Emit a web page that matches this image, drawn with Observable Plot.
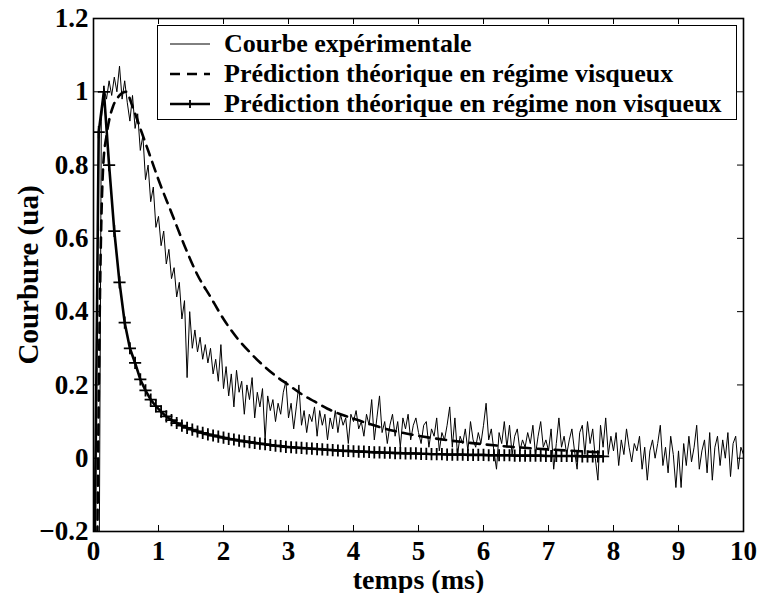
<!DOCTYPE html>
<html><head><meta charset="utf-8">
<script src="https://cdn.jsdelivr.net/npm/d3@7"></script>
<script src="https://cdn.jsdelivr.net/npm/@observablehq/plot@0.6"></script>
<style>
body{margin:0;background:#fff;}
#fig{position:relative;width:760px;height:593px;font-family:"Liberation Serif","Times New Roman",serif;font-weight:bold;color:#000;}
#legend{position:absolute;left:157px;top:25px;width:578px;height:93px;border:1px solid #000;background:#fff;}
.row{position:absolute;left:0;height:30px;display:flex;align-items:center;font-size:26px;white-space:nowrap;}
.row svg{margin-left:12px;flex:none;}
.row span{margin-left:12px;}
#fig svg text{font-family:"Liberation Serif","Times New Roman",serif;}
</style>
</head><body>
<div id="fig"></div>
<script>
// ---- data ----
const xTicks = [0,1,2,3,4,5,6,7,8,9,10];
const yTicks = [-0.2,0,0.2,0.4,0.6,0.8,1,1.2];
const legendLabels = ["Courbe expérimentale","Prédiction théorique en régime visqueux","Prédiction théorique en régime non visqueux"];
const xLabel = "temps (ms)";
const yLabel = "Courbure (ua)";

// experimental curve, sampled every 0.04 ms from 0 to 10 ms
const expStep = 0.04;
const expValues = [
 0.02,-0.35,-0.6,0.92,1.01,0.98,1.03,0.99,1.04,1.00,1.07,0.98,1.03,0.97,0.92,0.99,0.90,0.94,0.84,0.88,0.76,0.80,0.70,0.74,0.63,
 0.66,0.58,0.62,0.53,0.57,0.49,0.52,0.44,0.48,0.38,0.43,0.22,0.40,0.30,0.35,0.29,0.33,0.27,0.31,0.26,0.30,0.23,0.27,0.21,0.31,
 0.19,0.25,0.17,0.23,0.14,0.24,0.18,0.21,0.12,0.20,0.16,0.22,0.11,0.18,0.14,0.19,0.05,0.17,0.13,0.16,0.10,0.15,0.12,0.18,0.21,
 0.11,0.15,0.08,0.14,0.20,0.09,0.13,0.07,0.12,0.10,0.14,0.06,0.13,0.09,0.12,0.05,0.11,0.08,0.13,0.07,0.12,0.09,0.11,0.04,0.12,
 0.10,0.13,0.08,0.10,0.06,0.12,0.09,0.16,0.05,0.11,0.17,0.07,0.10,0.04,0.09,0.12,0.06,0.10,0.03,0.11,0.08,0.12,0.05,0.09,0.11,
 0.07,0.04,0.09,0.10,0.03,0.08,0.06,0.11,0.02,0.07,0.05,0.09,0.14,0.03,0.11,0.01,0.06,0.04,0.08,0.02,0.10,0.05,0.03,0.07,0.04,
 0.09,0.15,0.05,0.08,0.02,-0.03,0.07,0.04,0.10,0.03,0.09,0.01,0.06,0.08,0.02,0.05,0.03,0.07,0.04,0.09,0.01,0.06,0.10,0.03,0.05,
 0.02,0.08,-0.03,0.04,0.11,0.03,0.06,0.01,0.05,0.08,0.02,-0.03,0.07,0.09,0.01,0.10,0.04,0.08,0.00,-0.06,0.09,0.03,0.11,0.01,0.06,
 0.02,0.07,-0.02,0.05,0.01,0.08,0.03,-0.01,0.04,0.02,0.06,-0.03,0.03,-0.06,0.02,0.05,0.00,0.04,0.09,-0.02,0.03,-0.04,0.06,0.01,-0.08,
 0.02,-0.08,0.04,-0.02,0.06,-0.01,0.03,0.09,-0.03,0.02,0.05,-0.04,0.07,-0.06,0.03,0.06,-0.02,0.05,0.00,0.07,-0.05,0.04,0.06,-0.03,0.03,0.01
];

// viscous prediction (dashed)
const viscT = [0.05,0.10,0.15,0.20,0.25,0.30,0.40,0.50,0.60,0.70,0.80,0.90,1.00,1.20,1.40,1.60,1.80,2.00,2.20,2.40,2.60,2.80,3.00,3.20,3.40,3.60,3.80,4.00,4.50,5.00,5.50,6.00,6.50,7.00,7.50,7.80];
const viscV = [-0.4,0.45,0.80,0.88,0.93,0.96,0.99,1.00,0.96,0.91,0.86,0.81,0.76,0.67,0.58,0.50,0.44,0.38,0.33,0.29,0.255,0.225,0.20,0.175,0.155,0.135,0.12,0.108,0.08,0.061,0.048,0.038,0.03,0.024,0.019,0.016];

// non-viscous prediction (solid with + markers), sampled every 0.08 ms
const nonViscStep = 0.08;
const nonViscV = [
 -0.6,0.89,1.00,0.80,0.62,0.48,0.37,0.30,0.26,0.215,0.185,0.16,0.142,0.127,0.114,0.104,0.096,0.089,0.083,0.078,
 0.073,0.069,0.065,0.062,0.059,0.056,0.053,0.051,0.048,0.046,0.044,0.042,0.040,0.038,0.036,0.034,0.033,0.031,0.030,0.029,
 0.028,0.027,0.026,0.025,0.024,0.023,0.022,0.021,0.020,0.020,0.019,0.018,0.018,0.017,0.016,0.016,0.015,0.015,0.014,0.014,
 0.013,0.013,0.013,0.012,0.012,0.011,0.011,0.011,0.010,0.010,0.010,0.010,0.009,0.009,0.009,0.009,0.008,0.008,0.008,0.008,
 0.008,0.007,0.007,0.007,0.007,0.007,0.007,0.006,0.006,0.006,0.006,0.006,0.006,0.006,0.005,0.005,0.005,0.005,0.005
];

// ---- build tables ----
const exp = expValues.map((v,i)=>({t:+(i*expStep).toFixed(2), v}));
const visc = viscT.map((t,i)=>({t, v:viscV[i]}));
const nonVisc = nonViscV.map((v,i)=>({t:+(i*nonViscStep).toFixed(2), v}));

const fmtY = d => d < 0 ? "\u2212" + Math.abs(d) : String(d);
const W = 760, H = 593, mL = 93, mR = 17, mT = 18, mB = 62;
const innerW = W - mL - mR, innerH = H - mT - mB, tk = 6;
const serif = '"Liberation Serif","Times New Roman",serif';

const chart = Plot.plot({
  width: W, height: H,
  marginLeft: mL, marginRight: mR, marginTop: mT, marginBottom: mB,
  style: {fontFamily: serif, fontWeight: "bold", fontSize: "27px", background: "white", color: "black", overflow: "visible"},
  x: {domain: [0, 10]},
  y: {domain: [-0.2, 1.2]},
  marks: [
    Plot.line(exp, {x: "t", y: "v", stroke: "black", strokeWidth: 1, clip: true}),
    Plot.line(visc, {x: "t", y: "v", stroke: "black", strokeWidth: 2.6, strokeDasharray: "10,7", curve: "monotone-x", clip: true}),
    Plot.line(nonVisc, {x: "t", y: "v", stroke: "black", strokeWidth: 2.6, clip: true}),
    Plot.dot(nonVisc, {x: "t", y: "v", symbol: "plus", r: 4, stroke: "black", strokeWidth: 1.8, clip: true}),
    // inward ticks on all four sides
    Plot.tickX(xTicks, {x: d => d, insetTop: innerH - tk, stroke: "black", strokeWidth: 1}),
    Plot.tickX(xTicks, {x: d => d, insetBottom: innerH - tk, stroke: "black", strokeWidth: 1}),
    Plot.tickY(yTicks, {y: d => d, insetRight: innerW - tk, stroke: "black", strokeWidth: 1}),
    Plot.tickY(yTicks, {y: d => d, insetLeft: innerW - tk, stroke: "black", strokeWidth: 1}),
    Plot.frame({stroke: "black", strokeWidth: 1.6}),
    Plot.axisX(xTicks, {tickSize: 0, tickPadding: 9, label: null, fontSize: 27, fontFamily: serif, fontWeight: "bold"}),
    Plot.axisX({tickSize: 0, ticks: [], label: xLabel, labelAnchor: "center", labelOffset: 57, labelArrow: "none", fontSize: 28, fontFamily: serif, fontWeight: "bold"}),
    Plot.axisY(yTicks, {tickSize: 0, tickPadding: 5, tickFormat: fmtY, label: null, fontSize: 27, fontFamily: serif, fontWeight: "bold"}),
    Plot.axisY({tickSize: 0, ticks: [], label: yLabel, labelAnchor: "center", labelOffset: 76, labelArrow: "none", fontSize: 29, fontFamily: serif, fontWeight: "bold"})
  ]
});

const fig = document.getElementById("fig");
fig.appendChild(chart);

// legend (HTML overlay)
const legend = document.createElement("div");
legend.id = "legend";
const samples = [
  '<svg width="42" height="30"><line x1="0" x2="40" y1="15" y2="15" stroke="black" stroke-width="1"/></svg>',
  '<svg width="42" height="30"><line x1="0" x2="40" y1="15" y2="15" stroke="black" stroke-width="2.6" stroke-dasharray="10,7"/></svg>',
  '<svg width="42" height="30"><line x1="0" x2="40" y1="15" y2="15" stroke="black" stroke-width="2.6"/><path d="M20,11V19M16,15H24" stroke="black" stroke-width="1.8"/></svg>'
];
legendLabels.forEach((lab, i) => {
  const row = document.createElement("div");
  row.className = "row";
  row.style.top = (3 + i * 30) + "px";
  row.innerHTML = samples[i] + "<span>" + lab + "</span>";
  legend.appendChild(row);
});
fig.appendChild(legend);
</script>
</body></html>
